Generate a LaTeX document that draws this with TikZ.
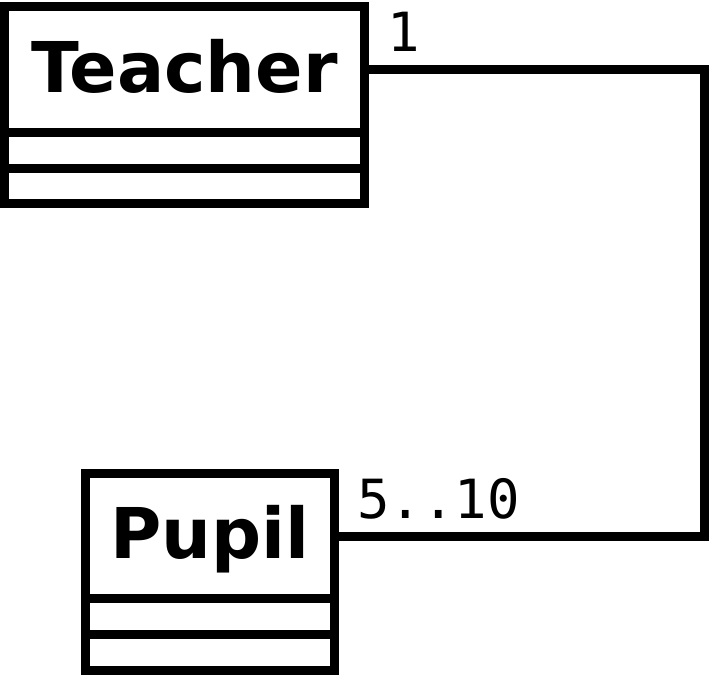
\documentclass[tikz,border=0pt]{standalone}
\usepackage{fontspec}
\setsansfont{DejaVu Sans}
\setmonofont{DejaVu Sans Mono}
\usetikzlibrary{positioning}

\begin{document}
\begin{tikzpicture}[line width=4.5pt,
  every node/.style={outer sep=0pt},
  classname/.style={draw, rectangle, text depth=4pt, font=\sffamily\bfseries\fontsize{35}{40}\selectfont},
  classpart/.style={draw, rectangle},
  mult/.style={anchor=base west, font=\ttfamily\fontsize{27}{30}\selectfont, xshift=8pt, yshift=9pt}]
\useasboundingbox (0,0) rectangle (356.5pt,-337.5pt);
\node[classname, minimum width=180pt, minimum height=63pt] (teacher) at (92.25pt,-34.75pt) {Teacher};
\node[classpart, minimum width=180pt, minimum height=17.75pt, below=0pt of teacher] (teacher attr) {};
\node[classpart, minimum width=180pt, minimum height=17.75pt, below=0pt of teacher attr] (teacher ops) {};

\node[classname, minimum width=124.5pt, minimum height=62.5pt] (pupil) at (105pt,-268pt) {Pupil};
\node[classpart, minimum width=124.5pt, minimum height=18pt, below=0pt of pupil] (pupil attr) {};
\node[classpart, minimum width=124.5pt, minimum height=18pt, below=0pt of pupil attr] (pupil ops) {};

\coordinate (bend) at (352.25pt,0);
\draw (teacher.east) -- (teacher.east -| bend) |- (pupil.east);
\node[mult] (teacher mult) at (teacher.east) {1};
\node[mult] (pupil mult) at (pupil.east) {5..10};
\end{tikzpicture}
\end{document}
